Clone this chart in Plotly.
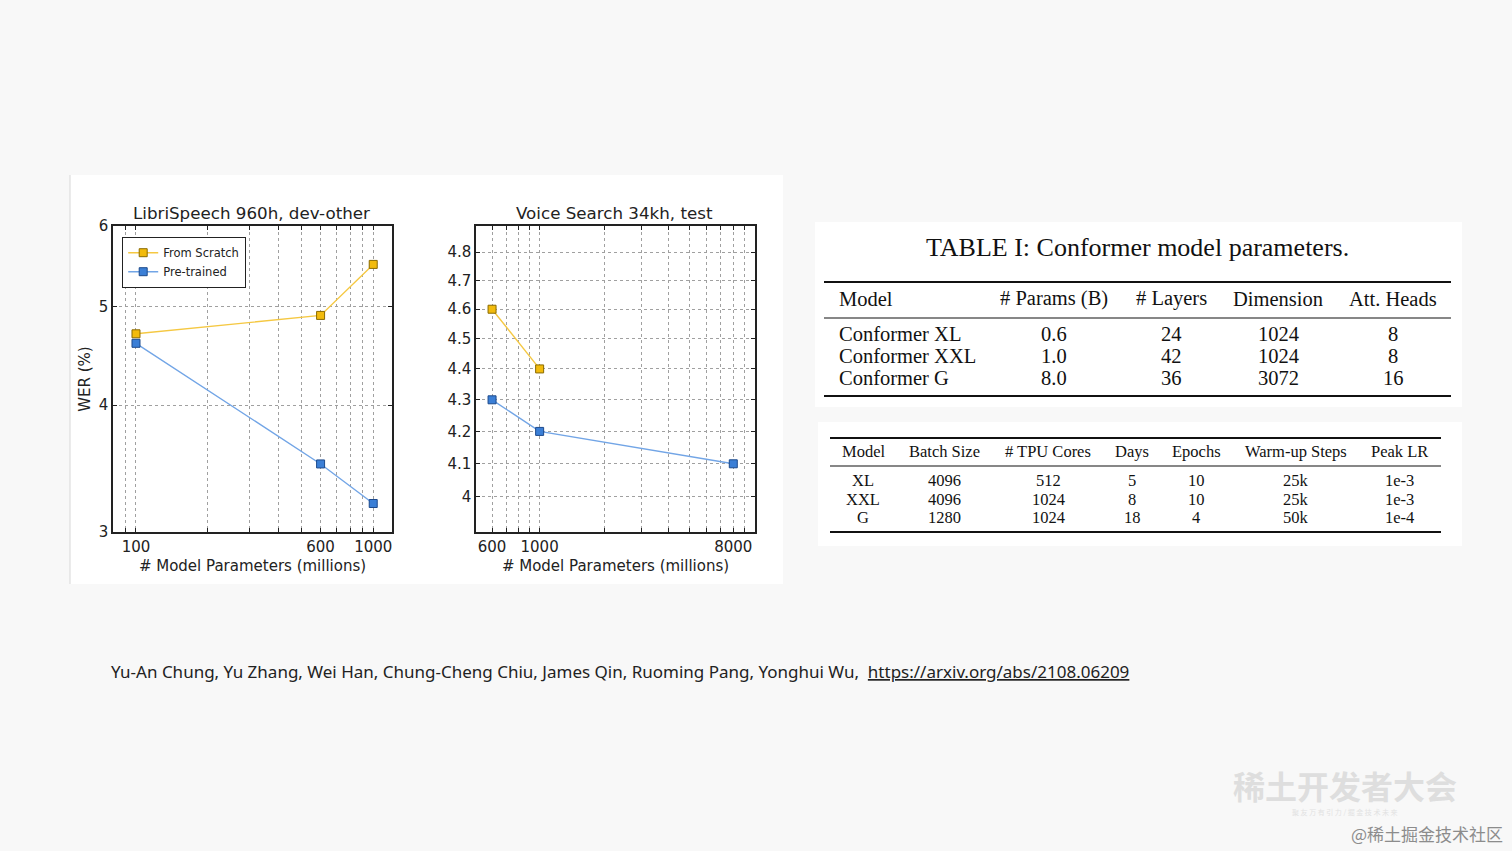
import math
import plotly.graph_objects as go

# ---------------- data ----------------
libri_params = [100, 600, 1000]
libri_scratch = [4.7, 4.9, 5.5]
libri_pretrained = [4.6, 3.5, 3.2]

vs_params_scratch = [600, 1000]
vs_scratch = [4.6, 4.4]
vs_params_pre = [600, 1000, 8000]
vs_pretrained = [4.3, 4.2, 4.1]

series_names = ["From Scratch", "Pre-trained"]
plot_titles = ["LibriSpeech 960h, dev-other", "Voice Search 34kh, test"]
x_title = "# Model Parameters (millions)"
y_title = "WER (%)"

libri_xgrid = [90, 100, 200, 300, 400, 500, 600, 700, 800, 900, 1000]
libri_xlabels = ["100", "600", "1000"]
libri_ygrid = [3, 4, 5, 6]
vs_xgrid = [600, 700, 800, 900, 1000, 2000, 3000, 4000, 5000, 6000, 7000, 8000, 9000]
vs_xlabels = ["600", "1000", "8000"]
vs_ygrid = [4.0, 4.1, 4.2, 4.3, 4.4, 4.5, 4.6, 4.7, 4.8]

t1_title = "TABLE I: Conformer model parameters."
t1_header = ["Model", "# Params (B)", "# Layers", "Dimension", "Att. Heads"]
t1_rows = [
    ["Conformer XL", "0.6", "24", "1024", "8"],
    ["Conformer XXL", "1.0", "42", "1024", "8"],
    ["Conformer G", "8.0", "36", "3072", "16"],
]
t2_header = ["Model", "Batch Size", "# TPU Cores", "Days", "Epochs", "Warm-up Steps", "Peak LR"]
t2_rows = [
    ["XL", "4096", "512", "5", "10", "25k", "1e-3"],
    ["XXL", "4096", "1024", "8", "10", "25k", "1e-3"],
    ["G", "1280", "1024", "18", "4", "50k", "1e-4"],
]

citation = "Yu-An Chung, Yu Zhang, Wei Han, Chung-Cheng Chiu, James Qin, Ruoming Pang, Yonghui Wu,"
link = "https://arxiv.org/abs/2108.06209"
wm_big = "稀土开发者大会"
wm_small = "聚 友 万 有 引 力 / 掘 金 技 术 未 来"
wm_handle = "@稀土掘金技术社区"

# ---------------- layout helpers ----------------
W, H = 1512, 851
def px(x):
    return x / W
def py(y):
    return 1 - y / H

YEL_FILL, YEL_EDGE, YEL_LINE = "#f2bb0c", "#8a6a00", "#f5c842"
BLU_FILL, BLU_EDGE, BLU_LINE = "#3b7fd6", "#1d4a8c", "#72a5e6"
MPL_FONT = "DejaVu Sans"
SERIF = "Liberation Serif, Times New Roman, serif"

fig = go.Figure()

def add_series(x, y, name, fill, edge, line, xa, ya, show):
    fig.add_trace(go.Scatter(
        x=x, y=y, name=name, mode="lines+markers", xaxis=xa, yaxis=ya,
        showlegend=show, legendgroup=name,
        line=dict(color=line, width=1.4),
        marker=dict(symbol="square", size=8, color=fill, line=dict(color=edge, width=1)),
    ))

add_series(libri_params, libri_scratch, series_names[0], YEL_FILL, YEL_EDGE, YEL_LINE, "x", "y", True)
add_series(libri_params, libri_pretrained, series_names[1], BLU_FILL, BLU_EDGE, BLU_LINE, "x", "y", True)
add_series(vs_params_scratch, vs_scratch, series_names[0], YEL_FILL, YEL_EDGE, YEL_LINE, "x2", "y2", False)
add_series(vs_params_pre, vs_pretrained, series_names[1], BLU_FILL, BLU_EDGE, BLU_LINE, "x2", "y2", False)

def fmt_num(v):
    return "%g" % v

def label_list(vals, shown):
    return [str(v) if str(v) in shown else "" for v in vals]

axis_common = dict(
    showline=True, linecolor="#222", linewidth=1.5, mirror="ticks",
    ticks="inside", ticklen=4, tickcolor="#222", automargin=False,
    showgrid=True, griddash="dot", gridcolor="#a0a0a0", gridwidth=1,
    zeroline=False, tickfont=dict(family=MPL_FONT, size=15, color="#222"),
)

# plot domains (pixels)
p1 = (113, 392)
p2 = (476, 755)
ytop, ybot = 226, 532

fig.update_layout(
    xaxis=dict(axis_common, type="log", domain=[px(p1[0]), px(p1[1])],
               range=[math.log10(80), math.log10(1200)],
               tickvals=libri_xgrid, ticktext=label_list(libri_xgrid, libri_xlabels),
               title=dict(text=x_title, font=dict(family=MPL_FONT, size=15, color="#222"), standoff=6),
               anchor="y"),
    yaxis=dict(axis_common, type="log", domain=[py(ybot), py(ytop)],
               range=[math.log10(3), math.log10(6)],
               tickvals=libri_ygrid, ticktext=[fmt_num(v) for v in libri_ygrid],
               title=dict(text=y_title, font=dict(family=MPL_FONT, size=15, color="#222"), standoff=4),
               anchor="x"),
    xaxis2=dict(axis_common, type="log", domain=[px(p2[0]), px(p2[1])],
                range=[math.log10(505), math.log10(10100)],
                tickvals=vs_xgrid, ticktext=label_list(vs_xgrid, vs_xlabels),
                title=dict(text=x_title, font=dict(family=MPL_FONT, size=15, color="#222"), standoff=6),
                anchor="y2"),
    yaxis2=dict(axis_common, type="log", domain=[py(ybot), py(ytop)],
                range=[math.log10(3.897), math.log10(4.894)],
                tickvals=vs_ygrid, ticktext=[fmt_num(v) for v in vs_ygrid],
                anchor="x2"),
)

shapes = []
annotations = []

# background panels
shapes.append(dict(type="rect", xref="paper", yref="paper", layer="below",
                   x0=px(70), x1=px(783), y0=py(584), y1=py(175),
                   fillcolor="white", line=dict(width=0)))
shapes.append(dict(type="line", xref="paper", yref="paper", layer="below",
                   x0=px(70), x1=px(70), y0=py(584), y1=py(175),
                   line=dict(color="#d8d8d8", width=1)))
shapes.append(dict(type="rect", xref="paper", yref="paper", layer="below",
                   x0=px(815), x1=px(1462), y0=py(407), y1=py(222),
                   fillcolor="white", line=dict(width=0)))
shapes.append(dict(type="rect", xref="paper", yref="paper", layer="below",
                   x0=px(818), x1=px(1462), y0=py(546), y1=py(422),
                   fillcolor="white", line=dict(width=0)))

# plot titles
for title, (a, b) in zip(plot_titles, [p1, p2]):
    annotations.append(dict(text=title, xref="paper", yref="paper", x=px((a + b) / 2 - 1), y=py(213),
                            xanchor="center", yanchor="middle", showarrow=False,
                            font=dict(family=MPL_FONT, size=16.7, color="#222")))

# ---- Table I ----
annotations.append(dict(text=t1_title, xref="paper", yref="paper", x=px(1137), y=py(248),
                        xanchor="center", yanchor="middle", showarrow=False,
                        font=dict(family=SERIF, size=26, color="#111")))
t1_cols = [837, 1054, 1171, 1278, 1393]
t1_header_y = 299
t1_row_y = [334, 356, 378]
for rule_y, w in [(282, 2.2), (318, 1.2), (396, 2.2)]:
    shapes.append(dict(type="line", xref="paper", yref="paper", x0=px(824), x1=px(1451),
                       y0=py(rule_y), y1=py(rule_y), line=dict(color="#111", width=w)))

def add_row(cells, cols, y, size, first_left):
    for i, (c, x) in enumerate(zip(cells, cols)):
        left = first_left and i == 0
        annotations.append(dict(text=c, xref="paper", yref="paper", x=px(x), y=py(y),
                                xanchor="left" if left else "center", yanchor="middle",
                                showarrow=False, font=dict(family=SERIF, size=size, color="#111")))

add_row(t1_header, t1_cols, t1_header_y, 20.5, True)
for r, y in zip(t1_rows, t1_row_y):
    add_row(r, t1_cols, y, 20.5, True)

# ---- Table II ----
t2_cols = [863, 944, 1048, 1132, 1196, 1296, 1399]
t2_header_y = 452
t2_row_y = [481, 499, 517]
for rule_y, w in [(438, 2.2), (466, 1.2), (532, 2.2)]:
    shapes.append(dict(type="line", xref="paper", yref="paper", x0=px(830), x1=px(1441),
                       y0=py(rule_y), y1=py(rule_y), line=dict(color="#111", width=w)))
add_row(t2_header, t2_cols, t2_header_y, 16.5, False)
for r, y in zip(t2_rows, t2_row_y):
    add_row(r, t2_cols, y, 16.5, False)

# citation
annotations.append(dict(
    text=citation + "&nbsp;&nbsp;<span style='text-decoration:underline'>" + link + "</span>",
    xref="paper", yref="paper", x=px(109), y=py(671), xanchor="left", yanchor="middle",
    showarrow=False, font=dict(family="Noto Sans", size=17, color="#222")))

# watermark
annotations.append(dict(text="<b>" + wm_big + "</b>", xref="paper", yref="paper", x=px(1345), y=py(785),
                        xanchor="center", yanchor="middle", showarrow=False,
                        font=dict(family="Noto Sans CJK SC", size=32, color="#dedede")))
annotations.append(dict(text=wm_small, xref="paper", yref="paper", x=px(1345), y=py(812),
                        xanchor="center", yanchor="middle", showarrow=False,
                        font=dict(family="Noto Sans CJK SC", size=7, color="#e2e2e2")))
annotations.append(dict(text=wm_handle, xref="paper", yref="paper", x=px(1505), y=py(833),
                        xanchor="right", yanchor="middle", showarrow=False,
                        font=dict(family="Noto Sans CJK SC", size=17, color="#8c8c8c")))

fig.update_layout(
    width=W, height=H, margin=dict(l=0, r=0, t=0, b=0, autoexpand=False),
    paper_bgcolor="#f8f8f8", plot_bgcolor="white",
    shapes=shapes, annotations=annotations,
    legend=dict(x=px(122), y=py(237), xanchor="left", yanchor="top",
                bgcolor="white", bordercolor="#222", borderwidth=1.2,
                font=dict(family=MPL_FONT, size=11.5, color="#222"),
                itemwidth=30, tracegroupgap=0),
    showlegend=True,
)

post = ("document.body.style.margin='0';document.body.style.padding='0';"
        "var gd=document.getElementById('{plot_id}');"
        "gd.style.position='absolute';gd.style.left='0px';gd.style.top='0px';")
fig.write_html("out.html", post_script=post, config={"displayModeBar": False})
